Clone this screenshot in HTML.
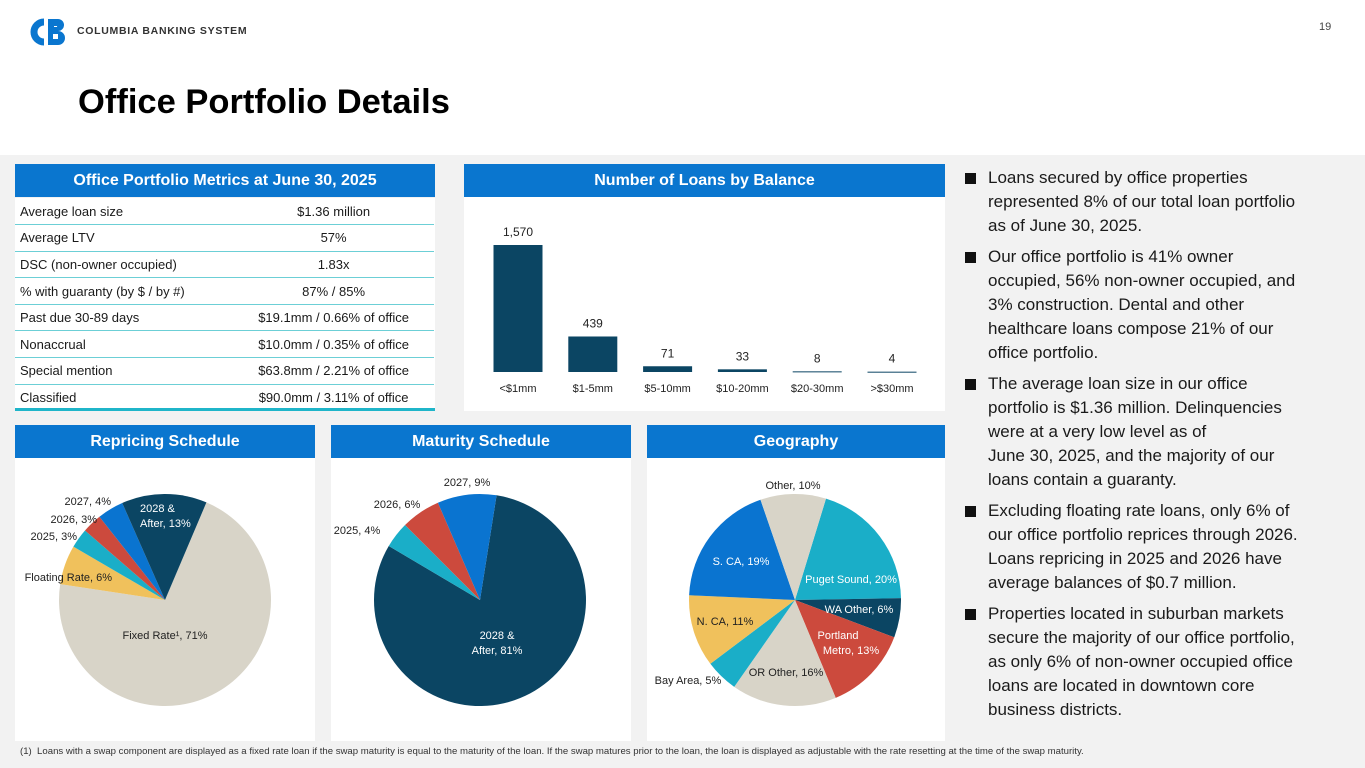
<!DOCTYPE html>
<html><head><meta charset="utf-8">
<style>
*{box-sizing:border-box;margin:0;padding:0}
body{width:1365px;height:768px;position:relative;overflow:hidden;font-family:"Liberation Sans",sans-serif;background:#fff;color:#1a1a1a}
.abs{position:absolute}
.hdr{position:absolute;background:#0a76cf;color:#fff;font-weight:bold;font-size:16px;text-align:center;line-height:33px;height:33px}
.panel{position:absolute;background:#fff}
table{border-collapse:collapse;width:419px;font-size:13px}
td{height:26.6px;border-bottom:1.5px solid #6ccfd6;padding:0 5px;white-space:nowrap}
td.v{text-align:center}
.bul{position:absolute;left:965px;font-size:17px;line-height:24px;color:#1a1a1a}
.bul p{position:relative;padding-left:23px;margin-bottom:7px;white-space:nowrap}
.bul p:before{content:"";position:absolute;left:0;top:7px;width:11px;height:11px;background:#111}
svg text{font-family:"Liberation Sans",sans-serif}
</style></head><body>
<div class="abs" style="left:0;top:155px;width:1365px;height:613px;background:#f2f2f2"></div>

<svg class="abs" style="left:24px;top:18px" width="44" height="28" viewBox="0 0 44 28">
<path d="M20 4 A10 10 0 1 0 20 24" fill="none" stroke="#0a76cf" stroke-width="7"/>
<path d="M24 1 h10 a6 6 0 0 1 0 12 a7 7 0 0 1 0 14 h-10z M30 8 v1 h3 a1 1 0 0 0 0 -1z" fill="#0a76cf"/>
<rect x="29" y="16" width="5" height="5" fill="#fff"/>
</svg>
<div class="abs" style="left:77px;top:25px;font-size:10.5px;font-weight:bold;letter-spacing:0.7px;color:#333">COLUMBIA BANKING SYSTEM</div>
<div class="abs" style="left:1319px;top:21px;font-size:11px;color:#444">19</div>
<div class="abs" style="left:78px;top:83px;font-size:34.5px;font-weight:bold;color:#000">Office Portfolio Details</div>

<div class="hdr" style="left:15px;top:164px;width:420px">Office Portfolio Metrics at June 30, 2025</div>
<div class="panel" style="left:15px;top:198px;width:420px;height:213px;border-bottom:3px solid #1fb5c9">
<table>
<tr><td>Average loan size</td><td class="v">$1.36 million</td></tr>
<tr><td>Average LTV</td><td class="v">57%</td></tr>
<tr><td>DSC (non-owner occupied)</td><td class="v">1.83x</td></tr>
<tr><td>% with guaranty (by $ / by #)</td><td class="v">87% / 85%</td></tr>
<tr><td>Past due 30-89 days</td><td class="v">$19.1mm / 0.66% of office</td></tr>
<tr><td>Nonaccrual</td><td class="v">$10.0mm / 0.35% of office</td></tr>
<tr><td>Special mention</td><td class="v">$63.8mm / 2.21% of office</td></tr>
<tr><td style="border-bottom:none">Classified</td><td class="v" style="border-bottom:none">$90.0mm / 3.11% of office</td></tr>
</table></div>

<div class="hdr" style="left:464px;top:164px;width:481px">Number of Loans by Balance</div>
<svg class="abs panel" id="bars" style="left:464px;top:197px" width="481" height="214"></svg>

<div class="hdr" style="left:15px;top:425px;width:300px">Repricing Schedule</div>
<svg class="abs panel" id="pie1" style="left:15px;top:458px" width="300" height="283"></svg>
<div class="hdr" style="left:331px;top:425px;width:300px">Maturity Schedule</div>
<svg class="abs panel" id="pie2" style="left:331px;top:458px" width="300" height="283"></svg>
<div class="hdr" style="left:647px;top:425px;width:298px">Geography</div>
<svg class="abs panel" id="pie3" style="left:647px;top:458px" width="298" height="283"></svg>

<div class="bul" style="top:166px">
<p>Loans secured by office properties<br>represented 8% of our total loan portfolio<br>as of June 30, 2025.</p>
<p>Our office portfolio is 41% owner<br>occupied, 56% non-owner occupied, and<br>3% construction. Dental and other<br>healthcare loans compose 21% of our<br>office portfolio.</p>
<p>The average loan size in our office<br>portfolio is $1.36 million. Delinquencies<br>were at a very low level as of<br>June 30, 2025, and the majority of our<br>loans contain a guaranty.</p>
<p>Excluding floating rate loans, only 6% of<br>our office portfolio reprices through 2026.<br>Loans repricing in 2025 and 2026 have<br>average balances of $0.7 million.</p>
<p>Properties located in suburban markets<br>secure the majority of our office portfolio,<br>as only 6% of non-owner occupied office<br>loans are located in downtown core<br>business districts.</p>
</div>

<div class="abs" style="left:20px;top:746px;font-size:9.6px;color:#333;white-space:nowrap">(1)&nbsp; Loans with a swap component are displayed as a fixed rate loan if the swap maturity is equal to the maturity of the loan. If the swap matures prior to the loan, the loan is displayed as adjustable with the rate resetting at the time of the swap maturity.</div>

<script>
const barCategories=["<$1mm","$1-5mm","$5-10mm","$10-20mm","$20-30mm",">$30mm"];
const barValues=[1570,439,71,33,8,4];
const barLabels=["1,570","439","71","33","8","4"];

const repricingCats=["Fixed Rate¹","Floating Rate","2025","2026","2027","2028 & After"];
const repricingVals=[71,6,3,3,4,13];
const maturityCats=["2028 & After","2025","2026","2027"];
const maturityVals=[81,4,6,9];
const geoCats=["Puget Sound","WA Other","Portland Metro","OR Other","Bay Area","N. CA","S. CA","Other"];
const geoVals=[20,6,13,16,5,11,19,10];

const NS="http://www.w3.org/2000/svg";
function mk(p,t,a){const e=document.createElementNS(NS,t);for(const k in a)e.setAttribute(k,a[k]);p.appendChild(e);return e;}
function txt(p,x,y,s,o){const e=mk(p,"text",Object.assign({x:x,y:y,"font-size":11,"text-anchor":"middle",fill:"#222"},o||{}));e.textContent=s;return e;}

(function(){
 const svg=document.getElementById("bars");
 const base=175, maxH=127, x0=54, step=74.8, bw=49;
 const y=v=>base-v/barValues[0]*maxH;
 barValues.forEach((v,i)=>{
  const cx=x0+i*step;
  const r=mk(svg,"rect",{x:cx-bw/2,y:y(v),width:bw,height:Math.max(base-y(v),1),fill:"#0b4563"});
  
  
  const t=txt(svg,cx,y(v)-9,barLabels[i],{"font-size":12});
  
  
  const c=txt(svg,cx,base+20,barCategories[i],{"font-size":11});
  
  
 });
})();

function pie(id,vals,colors,startDeg,cx,cy,r){
 const svg=document.getElementById(id);
 const tot=vals.reduce((a,b)=>a+b,0);
 let a=startDeg;
 vals.forEach((v,i)=>{
  const a1=a, a2=a+v/tot*360;
  const p=d=>[cx+r*Math.sin(d*Math.PI/180), cy-r*Math.cos(d*Math.PI/180)];
  const [x1,y1]=p(a1),[x2,y2]=p(a2);
  const path=mk(svg,"path",{d:`M${cx},${cy} L${x1},${y1} A${r},${r} 0 ${a2-a1>180?1:0} 1 ${x2},${y2} Z`,fill:colors[i]});
  
  
  a=a2;
 });
 return svg;
}
function lbl(svg,x,y,s,o){const t=txt(svg,x,y,s,o);
 
 }

const NAVY="#0b4563",BEIGE="#d8d4c8",YEL="#f0c15c",TEAL="#1aaec8",RED="#cc4a3d",BLUE="#0a74d0";
let s=pie("pie1",repricingVals,[BEIGE,YEL,TEAL,RED,BLUE,NAVY],23,150,142,106);
lbl(s,150,181,repricingCats[0]+", "+repricingVals[0]+"%");
lbl(s,97,123,repricingCats[1]+", "+repricingVals[1]+"%",{"text-anchor":"end"});
lbl(s,62,82,"2025, 3%",{"text-anchor":"end"});
lbl(s,82,65,"2026, 3%",{"text-anchor":"end"});
lbl(s,96,47,"2027, 4%",{"text-anchor":"end"});
lbl(s,125,54,"2028 &",{"text-anchor":"start",fill:"#fff"});
lbl(s,125,69,"After, 13%",{"text-anchor":"start",fill:"#fff"});
s=pie("pie2",maturityVals,[NAVY,TEAL,RED,BLUE],9,149,142,106);
lbl(s,166,181,"2028 &",{fill:"#fff"});
lbl(s,166,196,"After, 81%",{fill:"#fff"});
lbl(s,26,76,"2025, 4%");
lbl(s,66,50,"2026, 6%");
lbl(s,136,28,"2027, 9%");
s=pie("pie3",geoVals,[TEAL,NAVY,RED,BEIGE,TEAL,YEL,BLUE,BEIGE],17,148,142,106);
lbl(s,146,31,"Other, 10%");
lbl(s,94,107,"S. CA, 19%",{fill:"#fff"});
lbl(s,204,125,"Puget Sound, 20%",{fill:"#fff"});
lbl(s,212,155,"WA Other, 6%",{fill:"#fff"});
lbl(s,191,181,"Portland",{fill:"#fff"});
lbl(s,204,196,"Metro, 13%",{fill:"#fff"});
lbl(s,78,167,"N. CA, 11%");
lbl(s,139,218,"OR Other, 16%");
lbl(s,41,226,"Bay Area, 5%");
</script>
</body></html>
